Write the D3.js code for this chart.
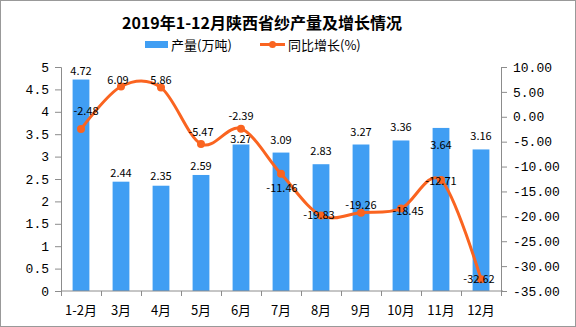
<!DOCTYPE html>
<html>
<head>
<meta charset="utf-8">
<script src="https://cdn.jsdelivr.net/npm/d3@7"></script>
<style>
  body { margin: 0; background: #fff; }
  text { font-family: "Noto Sans CJK SC", "DejaVu Sans", sans-serif; }
</style>
</head>
<body>
<div id="chart"></div>
<script>
// chart data
var months = ["1-2月", "3月", "4月", "5月", "6月", "7月", "8月", "9月", "10月", "11月", "12月"];
var output = [4.72, 2.44, 2.35, 2.59, 3.27, 3.09, 2.83, 3.27, 3.36, 3.64, 3.16];
var growth = [-2.48, 6.09, 5.86, -5.47, -2.39, -11.46, -19.83, -19.26, -18.45, -12.71, -32.62];
var leftTicks = [0, 0.5, 1, 1.5, 2, 2.5, 3, 3.5, 4, 4.5, 5];
var rightTicks = [10, 5, 0, -5, -10, -15, -20, -25, -30, -35];

// label nudges (layout only, px)
var barLabelDy = [-9, -9, -10, -9, -6, -13, -13, -13, -13, 17, -13];
var lineLabelDx = [5, -3, 0, 0, 0, 1, -2, 0, 7, 0, -2];
var lineLabelDy = [-18, -6, -8, -12, -13, 14, 0, -8, 2, 1, 0];

var W = 576, H = 327;
var plotL = 61, plotR = 501, plotT = 67, plotB = 291;
var barColor = "#409ef3", lineColor = "#fa6420", axisColor = "#8c8c8c";

var svg = d3.select("#chart").append("svg")
	.attr("width", W)
	.attr("height", H);

//outer frame
svg.append("rect")
	.attr("x", 0.5).attr("y", 0.5)
	.attr("width", W - 1).attr("height", H - 1)
	.attr("fill", "none").attr("stroke", "#999");

var x = d3.scaleBand().domain(months).range([plotL, plotR])
	.paddingInner(0.58).paddingOuter(0.29);
var yL = d3.scaleLinear().domain([0, 5]).range([plotB, plotT]);
var yR = d3.scaleLinear().domain([-35, 10]).range([plotB, plotT]);

//title
svg.append("text")
	.attr("x", 262).attr("y", 29)
	.attr("text-anchor", "middle")
	.style("font-size", "16px").style("font-weight", "bold")
	.text("2019年1-12月陕西省纱产量及增长情况");

//legend
svg.append("rect").attr("x", 145).attr("y", 41).attr("width", 23).attr("height", 7).attr("fill", barColor);
svg.append("text").attr("x", 171).attr("y", 50).style("font-size", "13px").text("产量(万吨)");
svg.append("line").attr("x1", 260).attr("x2", 285).attr("y1", 44.5).attr("y2", 44.5)
	.attr("stroke", lineColor).attr("stroke-width", 3);
svg.append("circle").attr("cx", 272.5).attr("cy", 44.5).attr("r", 3.5).attr("fill", lineColor);
svg.append("text").attr("x", 288).attr("y", 50).style("font-size", "13px").text("同比增长(%)");

//left axis
var gL = svg.append("g").attr("transform", "translate(" + plotL + ",0)")
	.call(d3.axisLeft(yL).tickValues(leftTicks).tickSize(6).tickPadding(6)
		.tickFormat(function(d) { return String(d); }));
//right axis
var gR = svg.append("g").attr("transform", "translate(" + plotR + ",0)")
	.call(d3.axisRight(yR).tickValues(rightTicks).tickSize(6).tickPadding(6)
		.tickFormat(function(d) { return d.toFixed(2); }));
[gL, gR].forEach(function(g) {
	g.select(".domain").attr("stroke", axisColor);
	g.selectAll(".tick line").attr("stroke", axisColor);
	g.selectAll(".tick text").attr("fill", "#000")
		.style("font-size", "13px")
		.style("font-family", "'Liberation Mono', 'DejaVu Sans Mono', monospace");
});

//bars
svg.selectAll("rect.bar")
	.data(output).enter().append("rect")
	.attr("class", "bar")
	.attr("x", function(d, i) { return x(months[i]); })
	.attr("width", x.bandwidth())
	.attr("y", function(d) { return yL(d); })
	.attr("height", function(d) { return yL(0) - yL(d); })
	.attr("fill", barColor);

//x axis
var gX = svg.append("g").attr("transform", "translate(0," + plotB + ")");
gX.append("line").attr("x1", plotL).attr("x2", plotR + 2).attr("stroke", axisColor);
d3.range(months.length + 1).forEach(function(i) {
	var px = Math.round(plotL + i * x.step()) + 0.5;
	gX.append("line").attr("x1", px).attr("x2", px).attr("y1", 0).attr("y2", 5).attr("stroke", axisColor);
});
gX.selectAll("text.xl")
	.data(months).enter().append("text")
	.attr("class", "xl")
	.attr("x", function(d) { return x(d) + x.bandwidth() / 2; })
	.attr("y", 24)
	.attr("text-anchor", "middle")
	.style("font-size", "13px")
	.text(function(d) { return d; });

//bar labels
svg.selectAll("text.bl")
	.data(output).enter().append("text")
	.attr("class", "bl")
	.attr("x", function(d, i) { return x(months[i]) + x.bandwidth() / 2; })
	.attr("y", function(d, i) { return yL(d) + barLabelDy[i] + 4; })
	.attr("text-anchor", "middle")
	.style("font-size", "11px")
	.text(function(d) { return d.toFixed(2); });

//growth line
var line = d3.line()
	.x(function(d, i) { return x(months[i]) + x.bandwidth() / 2; })
	.y(function(d) { return yR(d); })
	.curve(d3.curveCardinal.tension(0));
svg.append("path")
	.datum(growth)
	.attr("d", line)
	.attr("fill", "none")
	.attr("stroke", lineColor)
	.attr("stroke-width", 3);
svg.selectAll("circle.pt")
	.data(growth).enter().append("circle")
	.attr("class", "pt")
	.attr("cx", function(d, i) { return x(months[i]) + x.bandwidth() / 2; })
	.attr("cy", function(d) { return yR(d); })
	.attr("r", 4)
	.attr("fill", lineColor);

//line labels
svg.selectAll("text.ll")
	.data(growth).enter().append("text")
	.attr("class", "ll")
	.attr("x", function(d, i) { return x(months[i]) + x.bandwidth() / 2 + lineLabelDx[i]; })
	.attr("y", function(d, i) { return yR(d) + lineLabelDy[i] + 4; })
	.attr("text-anchor", "middle")
	.style("font-size", "11px")
	.text(function(d) { return d.toFixed(2); });
</script>
</body>
</html>
